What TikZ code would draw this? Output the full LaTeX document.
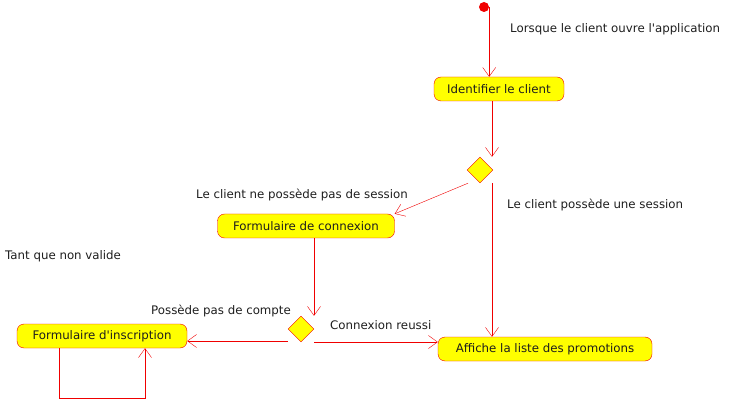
\documentclass[tikz,border=0pt]{standalone}
\usepackage{fontspec}
\setmainfont{DejaVu Sans}
\usepackage{tikz}
\usetikzlibrary{shapes.geometric, arrows.meta, calc}
\definecolor{ActRed}{RGB}{240,0,0}
\definecolor{ActYellow}{RGB}{255,255,0}
\definecolor{ActText}{RGB}{30,30,30}

\begin{document}
\begin{tikzpicture}[x=1pt, y=-1pt,
    font=\fontsize{11.8}{13}\selectfont, text=ActText,
    activite/.style={draw=ActRed, fill=ActYellow, rounded corners=7pt,
                     minimum height=24pt, inner sep=0pt},
    choix/.style={diamond, draw=ActRed, fill=ActYellow, minimum size=26pt,
                  inner sep=0pt},
    fleche/.style={draw=ActRed, -{Straight Barb[length=9pt, width=13pt]}},
    lbl/.style={anchor=west, inner sep=0pt}]
  \useasboundingbox (0,0) rectangle (730,403);

  % etats
  \node[circle, fill=ActRed, minimum size=10pt, inner sep=0pt] (start) at (484,7) {};
  \node[activite, minimum width=130pt] (identifier) at (499,89) {Identifier le client};
  \node[choix] (choix1) at (480,170) {};
  \node[activite, minimum width=177pt] (connexion) at (306,226) {Formulaire de connexion};
  \node[choix] (choix2) at (301,329) {};
  \node[activite, minimum width=170pt] (inscription) at (102,336)
        {Formulaire d\textquotesingle inscription};
  \node[activite, minimum width=214pt] (affiche) at (545,349) {Affiche la liste des promotions};

  % transitions
  \draw[fleche] (start.east) -- (start.east |- identifier.north);
  \draw[fleche] ([xshift=-7pt]identifier.south)
        -- ([xshift=-7pt]identifier.south |- choix1.north);
  \draw[fleche] ([xshift=-12pt]choix1.south) -- (connexion.north east);
  \draw[fleche] ([xshift=12pt]choix1.south)
        -- ([xshift=12pt]choix1.south |- affiche.north);
  \draw[fleche] ([xshift=8pt]connexion.south)
        -- ([xshift=8pt]connexion.south |- choix2.north);
  \draw[fleche] ([yshift=-12pt]choix2.west)
        -- ([yshift=-12pt]choix2.west -| inscription.east);
  \draw[fleche] ([yshift=-13pt]choix2.east)
        -- ([yshift=-13pt]choix2.east -| affiche.west);
  \draw[fleche] ([xshift=-43pt]inscription.south) -- ++(0,50)
        -| ([xshift=43pt]inscription.south);

  % gardes
  \node[lbl] (l1) at (510,29) {Lorsque le client ouvre l\textquotesingle application};
  \node[lbl] (l2) at (196,195) {Le client ne possède pas de session};
  \node[lbl] (l3) at (507,205) {Le client possède une session};
  \node[lbl] (l4) at (5,256) {Tant que non valide};
  \node[lbl] (l5) at (151,311) {Possède pas de compte};
  \node[lbl] (l6) at (330,325) {Connexion reussi};
\end{tikzpicture}
\end{document}
